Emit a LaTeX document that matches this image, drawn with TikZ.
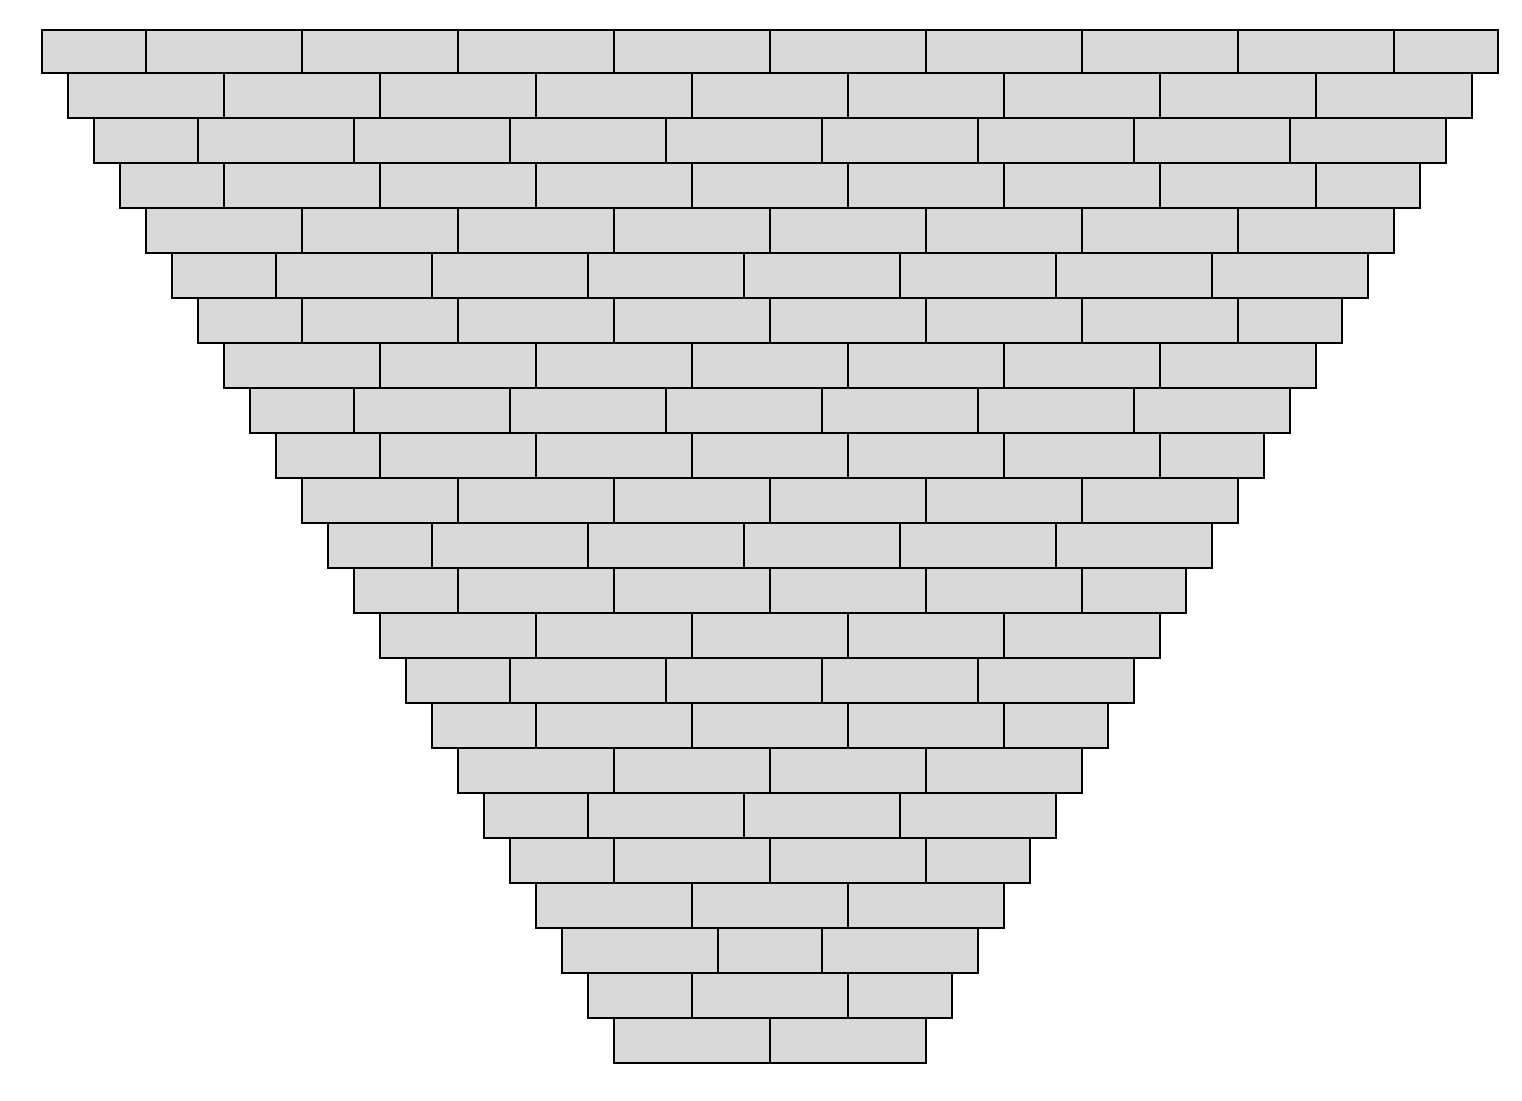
\documentclass[tikz,border=0pt]{standalone}
\definecolor{brickgray}{HTML}{D9D9D9}

\begin{document}
\begin{tikzpicture}[
  x=0.01cm, y=-0.01cm,
  brick/.style={draw=black,fill=brickgray,line width=0.6pt},
]
  \useasboundingbox (0,0) rectangle (1522,1100);
  % brick widths per course, in units of 52
  \foreach \r/\row in {1/{2,3,3,3,3,3,3,3,3,2},2/{3,3,3,3,3,3,3,3,3},
    3/{2,3,3,3,3,3,3,3,3},4/{2,3,3,3,3,3,3,3,2},5/{3,3,3,3,3,3,3,3},
    6/{2,3,3,3,3,3,3,3},7/{2,3,3,3,3,3,3,2},8/{3,3,3,3,3,3,3},
    9/{2,3,3,3,3,3,3},10/{2,3,3,3,3,3,2},11/{3,3,3,3,3,3},
    12/{2,3,3,3,3,3},13/{2,3,3,3,3,2},14/{3,3,3,3,3},15/{2,3,3,3,3},
    16/{2,3,3,3,2},17/{3,3,3,3},18/{2,3,3,3},19/{2,3,3,2},
    20/{3,3,3},21/{3,2,3},22/{2,3,2},23/{3,3}} {
    \pgfmathsetmacro{\yt}{max(30,27.7+45*(\r-1))}
    \pgfmathsetmacro{\yb}{72.7+45*(\r-1)}
    \pgfmathsetmacro{\xl}{41.7+26*(\r-1)}
    \global\let\xs\xl
    \foreach \w in \row {
      \pgfmathsetmacro{\xe}{\xs+52*\w}
      \draw[brick] (\xs,\yt) rectangle (\xe,\yb);
      \global\let\xs\xe
    }
  }
\end{tikzpicture}
\end{document}
